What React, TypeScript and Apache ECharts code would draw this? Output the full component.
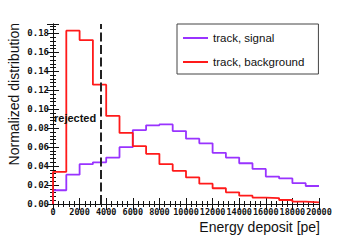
import React, { useEffect, useRef } from "react";
import * as echarts from "echarts";

const binStarts = [0, 1000, 2000, 3000, 4000, 5000, 6000, 7000, 8000, 9000, 10000, 11000, 12000, 13000, 14000, 15000, 16000, 17000, 18000, 19000];
const binWidth = 1000;
const signal = [0.0145, 0.031, 0.042, 0.044, 0.049, 0.060, 0.078, 0.083, 0.084, 0.077, 0.069, 0.064, 0.054, 0.049, 0.043, 0.037, 0.029, 0.027, 0.022, 0.019];
const background = [0.034, 0.183, 0.173, 0.126, 0.093, 0.075, 0.061, 0.053, 0.042, 0.035, 0.028, 0.0215, 0.0166, 0.0123, 0.0088, 0.0068, 0.0063, 0.0042, 0.0025, 0.0018];
const seriesNames = ["track, signal", "track, background"];
const cutValue = 3600;
const cutLabel = "rejected";
const xTitle = "Energy deposit [pe]";
const yTitle = "Normalized distribution";

function stepPoints(vals: number[]) {
  const pts: number[][] = [[binStarts[0], 0]];
  vals.forEach((v, i) => {
    pts.push([binStarts[i], v]);
    pts.push([binStarts[i] + binWidth, v]);
  });
  return pts;
}

const tickFont = { fontFamily: "DejaVu Sans Mono", fontWeight: "bold" as const, fontSize: 9, color: "#111" };

export default function App() {
  const ref = useRef<HTMLDivElement>(null);
  useEffect(() => {
    const chart = echarts.init(ref.current!, null, { renderer: "svg" });
    const axisCommon = {
      axisLine: { show: true, lineStyle: { color: "#111", width: 1 } },
      axisTick: { show: true, inside: true, length: 6, lineStyle: { color: "#111" } },
      minorTick: { show: true, splitNumber: 5, length: 3, lineStyle: { color: "#111" } },
      splitLine: { show: false },
    };
    chart.setOption({
      animation: false,
      backgroundColor: "#fff",
      grid: { left: 53, right: 36, top: 24, bottom: 38 },
      xAxis: [
        {
          type: "value", min: 0, max: 20000, interval: 2000, position: "bottom",
          ...axisCommon,
          axisLabel: { ...tickFont, fontSize: 8.5, margin: 3, showMaxLabel: true, hideOverlap: false, formatter: (v: number) => String(v) },
        },
        {
          type: "value", min: 0, max: 20000, interval: 2000, position: "top",
          ...axisCommon,
          axisLabel: { show: false },
        },
      ],
      yAxis: [
        {
          type: "value", min: 0, max: 0.19, interval: 0.02, position: "left",
          ...axisCommon,
          axisLabel: { ...tickFont, margin: 4, showMaxLabel: false, formatter: (v: number) => v.toFixed(2) },
        },
        {
          type: "value", min: 0, max: 0.19, interval: 0.02, position: "right",
          ...axisCommon,
          axisLabel: { show: false },
        },
      ],
      legend: {
        left: 177, top: 24, orient: "vertical",
        padding: [7, 14, 5, 6], itemGap: 10, itemWidth: 25, itemHeight: 2,
        icon: "rect",
        backgroundColor: "#fff", borderColor: "#444", borderWidth: 1, borderRadius: 0,
        textStyle: { fontFamily: "Liberation Sans", fontSize: 11.5, color: "#111", lineHeight: 14 },
        data: seriesNames,
      },
      series: [
        {
          name: seriesNames[0], type: "line", data: stepPoints(signal), symbol: "none",
          color: "#9933ff", lineStyle: { width: 1.8, color: "#9933ff" }, z: 3,
        },
        {
          name: seriesNames[1], type: "line", data: stepPoints(background), symbol: "none",
          color: "#ff1a1a", lineStyle: { width: 1.8, color: "#ff1a1a" }, z: 4,
          markLine: {
            silent: true, symbol: "none", label: { show: false },
            lineStyle: { color: "#222", width: 2, type: [9, 3.5] },
            data: [{ xAxis: cutValue }],
          },
        },
      ],
      graphic: [
        {
          type: "text", x: 14, y: 23, rotation: Math.PI / 2,
          style: { text: yTitle, fontFamily: "Liberation Sans", fontSize: 14, fill: "#111", align: "right", verticalAlign: "middle" },
        },
        {
          type: "text", x: 320, y: 227,
          style: { text: xTitle, fontFamily: "Liberation Sans", fontSize: 14, fill: "#111", align: "right", verticalAlign: "middle" },
        },
        {
          type: "text", x: 54, y: 117.5, z: 10,
          style: { text: cutLabel, fontFamily: "Liberation Sans", fontWeight: "bold", fontSize: 11, fill: "#111", align: "left", verticalAlign: "middle" },
        },
      ],
    });
    return () => chart.dispose();
  }, []);
  return <div ref={ref} style={{ position: "fixed", left: 0, top: 0, width: 355, height: 242 }} />;
}
